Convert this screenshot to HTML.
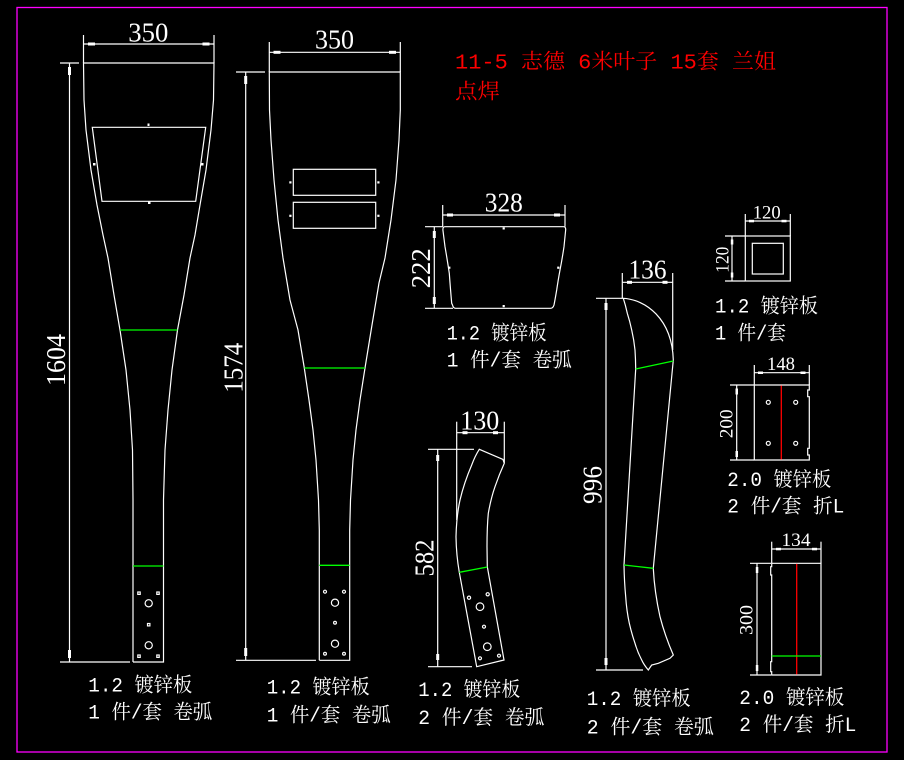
<!DOCTYPE html>
<html><head><meta charset="utf-8"><style>
html,body{margin:0;padding:0;background:#000;width:904px;height:760px;overflow:hidden}
svg{display:block}
.l{stroke:#fff;stroke-width:1.2;fill:none}
.g{stroke:#00ff00;stroke-width:1.3;fill:none}
.r{stroke:#ff0000;stroke-width:1.3;fill:none}
.a{fill:#fff}
.dt{font-family:"Liberation Serif",serif;fill:#fff;text-anchor:middle}
.lb{font-family:"Liberation Mono","Noto Serif CJK SC",monospace;fill:#fff;font-size:20px}
.rd{font-family:"Liberation Mono","Noto Serif CJK SC",monospace;fill:#ff0000;font-size:21px}
</style></head><body>
<svg width="904" height="760" viewBox="0 0 904 760" xmlns="http://www.w3.org/2000/svg">
<rect x="0" y="0" width="904" height="760" fill="#000"/>
<rect x="17" y="7.5" width="870" height="744.5" fill="none" stroke="#ff00ff" stroke-width="1.3"/>

<!-- Red title -->
<text class="rd" x="455" y="68.5" textLength="321" lengthAdjust="spacingAndGlyphs">11-5 志德 6米叶子 15套 兰姐</text>
<text class="rd" x="455" y="98.5" textLength="45" lengthAdjust="spacingAndGlyphs">点焊</text>

<!-- ========== Shape 1 ========== -->
<polyline class="l" points="133,662 133,500 132.5,450 130,410 126,370 120,330 114,295 108,258 103,235 97,205 91,170 86,130 84,100 83.5,63 214,63 213.5,100 211,130 206,170 200,205 195,235 190,258 184,295 177.5,330 172,370 168,410 165,450 163.5,500 163.5,662 133,662"/>
<polygon class="l" points="92.3,127.3 205.7,127.3 195.7,201.3 102,201.3"/>
<rect class="a" x="147.5" y="123.5" width="2" height="2.5"/>
<rect class="a" x="148" y="201.5" width="2.5" height="2.5"/>
<rect class="a" x="93" y="163" width="2.5" height="2.5"/>
<rect class="a" x="201" y="163" width="2.5" height="2.5"/>
<line class="g" x1="120" y1="330" x2="177.5" y2="330"/>
<line class="g" x1="133" y1="566" x2="163.5" y2="566"/>
<g class="l">
<rect x="137.8" y="592" width="2.4" height="2.4"/><rect x="156.8" y="592" width="2.4" height="2.4"/>
<circle cx="148.7" cy="603.3" r="3.6"/>
<rect x="147.5" y="623.5" width="2.4" height="2.4"/>
<circle cx="148.7" cy="645.3" r="3.6"/>
<rect x="137.8" y="655" width="2.4" height="2.4"/><rect x="156.8" y="655" width="2.4" height="2.4"/>
</g>
<!-- dims -->
<g class="l">
<line x1="83.5" y1="44" x2="214" y2="44"/>
<line x1="83.5" y1="35" x2="83.5" y2="63"/>
<line x1="214" y1="35" x2="214" y2="63"/>
<line x1="69.5" y1="63" x2="69.5" y2="662"/>
<line x1="60" y1="63" x2="79" y2="63"/>
<line x1="60" y1="662" x2="130" y2="662"/>
</g>
<rect class="a" x="88" y="42.5" width="7" height="3"/>
<rect class="a" x="202.5" y="42.5" width="7" height="3"/>
<rect class="a" x="68" y="67" width="3" height="8"/>
<rect class="a" x="68" y="650" width="3" height="8"/>
<text class="dt" x="148.3" y="41.7" font-size="27" textLength="40" lengthAdjust="spacingAndGlyphs">350</text>
<text class="dt" transform="translate(56,360) rotate(-90)" x="0" y="9" font-size="27" textLength="52" lengthAdjust="spacingAndGlyphs">1604</text>
<text class="lb" x="88.3" y="691.5" textLength="104" lengthAdjust="spacingAndGlyphs">1.2 镀锌板</text>
<text class="lb" x="88.3" y="718.5" textLength="124" lengthAdjust="spacingAndGlyphs">1 件/套 卷弧</text>

<!-- ========== Shape 2 ========== -->
<polyline class="l" points="319.3,660.3 319.3,530 318.5,500 316,460 313,430 309,400 304.3,368 298,330 290,300 283,258 278,220 274,180 271,140 269.5,110 269.3,72 400.3,72 400.3,110 399,140 396,180 391,220 385,258 379,283 372,325 365,368 360,400 356,430 353,460 350.5,500 349.7,530 349.7,660.3 319.3,660.3"/>
<rect class="l" x="293.3" y="169.3" width="82.4" height="26"/>
<rect class="l" x="293.3" y="202.3" width="82.4" height="26"/>
<rect class="a" x="289.3" y="181.3" width="2.2" height="2.2"/>
<rect class="a" x="377.3" y="181.3" width="2.2" height="2.2"/>
<rect class="a" x="289.3" y="214.7" width="2.2" height="2.2"/>
<rect class="a" x="377.3" y="214.7" width="2.2" height="2.2"/>
<line class="g" x1="304.3" y1="368" x2="365" y2="368"/>
<line class="g" x1="319.3" y1="565.3" x2="349.7" y2="565.3"/>
<g class="l">
<circle cx="325" cy="591.7" r="1.5"/><circle cx="344" cy="591.7" r="1.5"/>
<circle cx="335" cy="602.7" r="3.6"/>
<circle cx="335" cy="622.7" r="1.4"/>
<circle cx="335" cy="643.7" r="3.6"/>
<circle cx="325" cy="653.7" r="1.4"/><circle cx="344" cy="653.7" r="1.4"/>
</g>
<g class="l">
<line x1="269.3" y1="52.3" x2="400.3" y2="52.3"/>
<line x1="269.3" y1="42" x2="269.3" y2="72"/>
<line x1="400.3" y1="42" x2="400.3" y2="72"/>
<line x1="245.7" y1="72" x2="245.7" y2="660"/>
<line x1="236" y1="72" x2="265" y2="72"/>
<line x1="236" y1="660.3" x2="316" y2="660.3"/>
</g>
<rect class="a" x="273.5" y="50.8" width="7" height="3"/>
<rect class="a" x="389" y="50.8" width="7" height="3"/>
<rect class="a" x="244.2" y="76" width="3" height="8"/>
<rect class="a" x="244.2" y="648" width="3" height="8"/>
<text class="dt" x="334.5" y="48.3" font-size="27" textLength="39" lengthAdjust="spacingAndGlyphs">350</text>
<text class="dt" transform="translate(233,367.7) rotate(-90)" x="0" y="9.5" font-size="27" textLength="50" lengthAdjust="spacingAndGlyphs">1574</text>
<text class="lb" x="266.7" y="693.3" textLength="103" lengthAdjust="spacingAndGlyphs">1.2 镀锌板</text>
<text class="lb" x="266.7" y="721.7" textLength="124" lengthAdjust="spacingAndGlyphs">1 件/套 卷弧</text>

<!-- ========== Shape 3 (328x222) ========== -->
<path class="l" d="M445,226.7 L563.5,226.7 Q565.7,226.7 565.7,229.5 L564,246.7 Q562,260 560,270 Q558,281 556.7,290 Q555,300 554,305 Q553,308.3 550.5,308.3 L455.5,308.3 Q453.3,308.3 452.5,305 L451.7,303.3 Q450.5,290 449.3,273.3 Q447,258 445,246.7 L442.9,230 Q442.7,226.7 445,226.7 Z"/>
<rect class="a" x="502.6" y="227.3" width="2.2" height="2.2"/>
<rect class="a" x="448.2" y="266.6" width="2.2" height="2.2"/>
<rect class="a" x="557.2" y="266.6" width="2.2" height="2.2"/>
<rect class="a" x="502.6" y="305" width="2.2" height="2.2"/>
<g class="l">
<line x1="442.7" y1="215" x2="565" y2="215"/>
<line x1="442.7" y1="205" x2="442.7" y2="226.7"/>
<line x1="565" y1="205" x2="565" y2="226.7"/>
<line x1="434.3" y1="226.7" x2="434.3" y2="308.3"/>
<line x1="425" y1="226.7" x2="443" y2="226.7"/>
<line x1="425" y1="308.3" x2="453" y2="308.3"/>
</g>
<rect class="a" x="447" y="213.5" width="6" height="3"/>
<rect class="a" x="554" y="213.5" width="6" height="3"/>
<rect class="a" x="432.8" y="231" width="3" height="7"/>
<rect class="a" x="432.8" y="297" width="3" height="7"/>
<text class="dt" x="503.8" y="211.7" font-size="27" textLength="38" lengthAdjust="spacingAndGlyphs">328</text>
<text class="dt" transform="translate(420.5,268.3) rotate(-90)" x="0" y="9.5" font-size="27" textLength="40" lengthAdjust="spacingAndGlyphs">222</text>
<text class="lb" x="446.7" y="339.3" textLength="100" lengthAdjust="spacingAndGlyphs">1.2 镀锌板</text>
<text class="lb" x="446.7" y="366.7" textLength="125" lengthAdjust="spacingAndGlyphs">1 件/套 卷弧</text>

<!-- ========== Shape 4 (130x582) ========== -->
<path class="l" d="M479.3,449.3 L503,459.5 L504.3,463.3 Q499,475 495,486.7 Q491,498 488.3,513.3 Q487,527 487,546.7 L487.3,566.7 L504,660 L476.7,666.7 L459.3,572.3 Q456.3,555 456,536.7 Q456.5,516 460,500 Q464,483 471.7,465 Q475,456 479.3,449.3 Z"/>
<line class="g" x1="459.3" y1="572.3" x2="487.3" y2="567"/>
<g class="l">
<circle cx="469" cy="597.7" r="1.6"/>
<circle cx="487.7" cy="594.3" r="1.6"/>
<circle cx="480" cy="606.7" r="3.8"/>
<circle cx="484" cy="626.7" r="1.5"/>
<circle cx="487.3" cy="646.7" r="3.8"/>
<circle cx="480" cy="658.3" r="1.5"/>
<circle cx="499" cy="655.7" r="1.5"/>
</g>
<g class="l">
<line x1="456.7" y1="432.7" x2="504.3" y2="432.7"/>
<line x1="456.7" y1="421.7" x2="456.7" y2="520"/>
<line x1="504.3" y1="421.7" x2="504.3" y2="463"/>
<line x1="437.7" y1="449.3" x2="437.7" y2="666.7"/>
<line x1="428" y1="449.3" x2="474" y2="449.3"/>
<line x1="428" y1="666.7" x2="472" y2="666.7"/>
</g>
<rect class="a" x="462.5" y="431.2" width="5" height="3"/>
<rect class="a" x="493" y="431.2" width="5" height="3"/>
<rect class="a" x="436.2" y="455" width="3" height="6"/>
<rect class="a" x="436.2" y="654" width="3" height="6"/>
<text class="dt" x="479.7" y="429.3" font-size="27" textLength="39" lengthAdjust="spacingAndGlyphs">130</text>
<text class="dt" transform="translate(424,558) rotate(-90)" x="0" y="9.3" font-size="27" textLength="37" lengthAdjust="spacingAndGlyphs">582</text>
<text class="lb" x="418.3" y="696" textLength="102" lengthAdjust="spacingAndGlyphs">1.2 镀锌板</text>
<text class="lb" x="418.3" y="724" textLength="126" lengthAdjust="spacingAndGlyphs">2 件/套 卷弧</text>

<!-- ========== Shape 5 (136x996) ========== -->
<path class="l" d="M623.3,298.3 C645,299.5 672,318 673.3,360 L653.3,568.3 Q654.5,592 660,616.7 Q665,636 673.3,655 L670,658.3 L658.3,663.3 L651.7,665 L648.3,670 Q644,665 641.7,660 Q637.5,652 635,643.3 Q631.5,633 629.3,623.3 Q626.5,610 625.7,596.7 Q624.3,582 624,565 L635.7,369 Q635.6,359 635,350 Q634,340 631.7,330 Q629.8,321 627.3,313.3 Q625.5,305 623.3,298.3 Z"/>
<line class="g" x1="635.7" y1="369" x2="673.3" y2="361"/>
<line class="g" x1="624" y1="565" x2="653.3" y2="568.3"/>
<g class="l">
<line x1="622.3" y1="282.3" x2="672.7" y2="282.3"/>
<line x1="622.3" y1="273" x2="622.3" y2="298"/>
<line x1="672.7" y1="273" x2="672.7" y2="350"/>
<line x1="606" y1="298.3" x2="606" y2="670"/>
<line x1="596" y1="298.3" x2="623" y2="298.3"/>
<line x1="596" y1="670" x2="643" y2="670"/>
</g>
<rect class="a" x="627" y="280.8" width="5" height="3"/>
<rect class="a" x="662.5" y="280.8" width="5" height="3"/>
<rect class="a" x="604.5" y="303" width="3" height="7"/>
<rect class="a" x="604.5" y="658" width="3" height="7"/>
<text class="dt" x="647.5" y="278.3" font-size="27" textLength="38" lengthAdjust="spacingAndGlyphs">136</text>
<text class="dt" transform="translate(592.5,485) rotate(-90)" x="0" y="9.2" font-size="27" textLength="38" lengthAdjust="spacingAndGlyphs">996</text>
<text class="lb" x="586.7" y="705" textLength="104" lengthAdjust="spacingAndGlyphs">1.2 镀锌板</text>
<text class="lb" x="586.7" y="733.3" textLength="127" lengthAdjust="spacingAndGlyphs">2 件/套 卷弧</text>

<!-- ========== Shape 6 (120x120) ========== -->
<rect class="l" x="745.3" y="236" width="45" height="45"/>
<rect class="l" x="752.3" y="243.3" width="31" height="30.7"/>
<g class="l">
<line x1="745.3" y1="221" x2="790.3" y2="221"/>
<line x1="745.3" y1="214" x2="745.3" y2="236"/>
<line x1="790.3" y1="214" x2="790.3" y2="236"/>
<line x1="732" y1="236" x2="732" y2="281"/>
<line x1="725" y1="236" x2="745" y2="236"/>
<line x1="725" y1="281" x2="745" y2="281"/>
</g>
<rect class="a" x="749" y="219.8" width="5" height="2.5"/>
<rect class="a" x="781.5" y="219.8" width="5" height="2.5"/>
<rect class="a" x="730.8" y="239.5" width="2.5" height="5"/>
<rect class="a" x="730.8" y="272.5" width="2.5" height="5"/>
<text class="dt" x="766.7" y="218.3" font-size="19" textLength="28" lengthAdjust="spacingAndGlyphs">120</text>
<text class="dt" transform="translate(721.7,259.7) rotate(-90)" x="0" y="6.7" font-size="19" textLength="26" lengthAdjust="spacingAndGlyphs">120</text>
<text class="lb" x="715" y="312.7" textLength="103" lengthAdjust="spacingAndGlyphs">1.2 镀锌板</text>
<text class="lb" x="715" y="339.3" textLength="71" lengthAdjust="spacingAndGlyphs">1 件/套</text>

<!-- ========== Shape 7 (148x200) ========== -->
<path class="l" d="M754.3,385 H809.3 V390 H807.7 V396.7 H809.3 V448.3 H807.7 V455 H809.3 V460 H754.3 Z"/>
<line class="r" x1="781.3" y1="385.5" x2="781.3" y2="459.5"/>
<g class="l">
<circle cx="768.3" cy="402.3" r="2"/><circle cx="795.7" cy="402.3" r="2"/>
<circle cx="768.3" cy="443.3" r="2"/><circle cx="795.7" cy="443.3" r="2"/>
</g>
<g class="l">
<line x1="754.3" y1="372.7" x2="809.3" y2="372.7"/>
<line x1="754.3" y1="365" x2="754.3" y2="385"/>
<line x1="809.3" y1="365" x2="809.3" y2="385"/>
<line x1="736.7" y1="385" x2="736.7" y2="460"/>
<line x1="730" y1="385" x2="754" y2="385"/>
<line x1="730" y1="460" x2="754" y2="460"/>
</g>
<rect class="a" x="758" y="371.5" width="5" height="2.5"/>
<rect class="a" x="800.5" y="371.5" width="5" height="2.5"/>
<rect class="a" x="735.5" y="388.5" width="2.5" height="6"/>
<rect class="a" x="735.5" y="451" width="2.5" height="6"/>
<text class="dt" x="781" y="370" font-size="19" textLength="28" lengthAdjust="spacingAndGlyphs">148</text>
<text class="dt" transform="translate(725.8,423.8) rotate(-90)" x="0" y="6.8" font-size="19" textLength="29" lengthAdjust="spacingAndGlyphs">200</text>
<text class="lb" x="727.3" y="486" textLength="104" lengthAdjust="spacingAndGlyphs">2.0 镀锌板</text>
<text class="lb" x="727.3" y="512.7" textLength="117" lengthAdjust="spacingAndGlyphs">2 件/套 折L</text>

<!-- ========== Shape 8 (134x300) ========== -->
<path class="l" d="M771.7,563.3 H821 V675 H771.7 V671.7 H770.7 V661.7 H771.7 V575 H770.7 V566.7 H771.7 Z"/>
<line class="r" x1="796.7" y1="563.8" x2="796.7" y2="674.5"/>
<line class="g" x1="771.7" y1="656" x2="821" y2="656"/>
<g class="l">
<line x1="771.7" y1="549" x2="821" y2="549"/>
<line x1="771.7" y1="541.7" x2="771.7" y2="563.3"/>
<line x1="821" y1="541.7" x2="821" y2="563.3"/>
<line x1="757" y1="563.3" x2="757" y2="675"/>
<line x1="750" y1="563.3" x2="771" y2="563.3"/>
<line x1="750" y1="675" x2="771" y2="675"/>
</g>
<rect class="a" x="776" y="547.8" width="5" height="2.5"/>
<rect class="a" x="812" y="547.8" width="5" height="2.5"/>
<rect class="a" x="755.8" y="567" width="2.5" height="6"/>
<rect class="a" x="755.8" y="665" width="2.5" height="6"/>
<text class="dt" x="796" y="546" font-size="19" textLength="29" lengthAdjust="spacingAndGlyphs">134</text>
<text class="dt" transform="translate(745.8,620) rotate(-90)" x="0" y="6.8" font-size="19" textLength="30" lengthAdjust="spacingAndGlyphs">300</text>
<text class="lb" x="739.3" y="704" textLength="105" lengthAdjust="spacingAndGlyphs">2.0 镀锌板</text>
<text class="lb" x="739.3" y="731" textLength="117" lengthAdjust="spacingAndGlyphs">2 件/套 折L</text>
</svg>
</body></html>
